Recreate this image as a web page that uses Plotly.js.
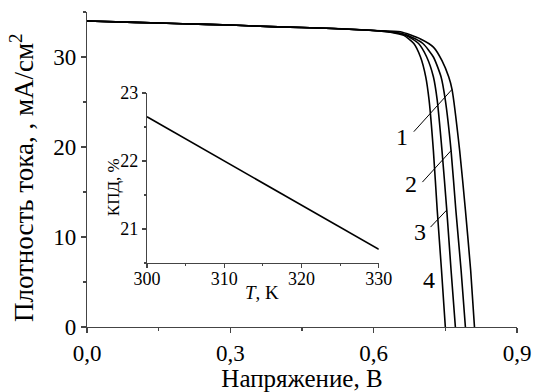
<!DOCTYPE html>
<html>
<head>
<meta charset="utf-8">
<script src="https://cdn.plot.ly/plotly-3.0.1.min.js"></script>
<style>html,body{margin:0;padding:0;background:#fff;}#chart{width:533px;height:392px;}</style>
</head>
<body>
<div id="chart"></div>
<script>
// J–V curves (voltage, V; current density, mA/cm^2)
var V1 = [0, 0.1, 0.2, 0.3, 0.4, 0.5, 0.6, 0.656, 0.698, 0.725, 0.743, 0.757, 0.764, 0.780, 0.792, 0.803, 0.811];
var J1 = [34.0, 33.85, 33.7, 33.55, 33.35, 33.2, 32.95, 32.8, 32.0, 31.1, 29.6, 27.8, 26.4, 19.6, 13.0, 6.3, 0];
var V2 = [0, 0.1, 0.2, 0.3, 0.4, 0.5, 0.6, 0.645, 0.672, 0.703, 0.725, 0.741, 0.750, 0.762, 0.772, 0.783, 0.792];
var J2 = [34.0, 33.85, 33.7, 33.55, 33.35, 33.2, 32.95, 32.75, 32.4, 31.5, 30.0, 27.8, 25.2, 19.6, 13.0, 6.3, 0];
var V3 = [0, 0.1, 0.2, 0.3, 0.4, 0.5, 0.6, 0.64, 0.668, 0.694, 0.711, 0.725, 0.733, 0.743, 0.753, 0.762, 0.771];
var J3 = [34.0, 33.85, 33.7, 33.55, 33.35, 33.2, 32.95, 32.75, 32.4, 31.5, 30.0, 27.8, 25.2, 19.6, 13.0, 6.3, 0];
var V4 = [0, 0.1, 0.2, 0.3, 0.4, 0.5, 0.6, 0.635, 0.663, 0.684, 0.698, 0.709, 0.716, 0.725, 0.733, 0.742, 0.750];
var J4 = [34.0, 33.85, 33.7, 33.55, 33.35, 33.2, 32.95, 32.75, 32.4, 31.5, 30.0, 27.8, 25.2, 19.6, 13.0, 6.3, 0];
// Inset: efficiency vs temperature
var T = [300, 310, 320, 330];
var eff = [22.65, 22.0, 21.35, 20.7];
var curveLabels = ["1", "2", "3", "4"];
var xTickVals = [0, 0.3, 0.6, 0.9];
var xTickText = ["0,0", "0,3", "0,6", "0,9"];

var serif = "'Liberation Serif', 'Times New Roman', serif";
var lineStyle = {color: "#000", width: 1.6, shape: "spline", smoothing: 0.6};
var traces = [
  {x: V1, y: J1, mode: "lines", line: lineStyle, xaxis: "x", yaxis: "y"},
  {x: V2, y: J2, mode: "lines", line: lineStyle, xaxis: "x", yaxis: "y"},
  {x: V3, y: J3, mode: "lines", line: lineStyle, xaxis: "x", yaxis: "y"},
  {x: V4, y: J4, mode: "lines", line: lineStyle, xaxis: "x", yaxis: "y"},
  {x: T, y: eff, mode: "lines", line: {color: "#000", width: 1.6}, xaxis: "x2", yaxis: "y2"}
];

var axisCommon = {
  showgrid: false, zeroline: false, showline: true, linecolor: "#444", linewidth: 1.2,
  ticks: "outside", tickcolor: "#444", tickwidth: 1.2, mirror: false
};

var layout = {
  width: 533, height: 392,
  margin: {l: 87, r: 16, t: 12, b: 65},
  paper_bgcolor: "#fff", plot_bgcolor: "rgba(0,0,0,0)",
  showlegend: false,
  separators: ", ",
  font: {family: serif, color: "#000", size: 22},
  xaxis: Object.assign({}, axisCommon, {
    domain: [0, 1], range: [0, 0.9], tickvals: xTickVals, ticktext: xTickText,
    ticklen: 5, minor: {dtick: 0.15, tick0: 0, ticklen: 3, ticks: "outside", tickcolor: "#444"},
    tickfont: {family: serif, size: 23},
    title: {text: "Напряжение, В", font: {family: serif, size: 25}, standoff: 4}
  }),
  yaxis: Object.assign({}, axisCommon, {
    domain: [0, 1], range: [0, 35], dtick: 10, tick0: 0,
    ticklen: 5, minor: {dtick: 5, tick0: 0, ticklen: 3, ticks: "outside", tickcolor: "#444"},
    tickfont: {family: serif, size: 23}
  }),
  xaxis2: Object.assign({}, axisCommon, {
    domain: [0.1395, 0.6786], range: [300, 330], dtick: 10, tick0: 300, anchor: "y2",
    ticklen: 4, minor: {dtick: 5, tick0: 300, ticklen: 2, ticks: "outside", tickcolor: "#444"},
    tickfont: {family: serif, size: 18}, ticklabelstandoff: -5
  }),
  yaxis2: Object.assign({}, axisCommon, {
    domain: [0.2032, 0.7429], range: [20.5, 23], dtick: 1, tick0: 20, anchor: "x2",
    ticklen: 4, minor: {dtick: 0.5, tick0: 20.5, ticklen: 2, ticks: "outside", tickcolor: "#444"},
    tickfont: {family: serif, size: 18}
  }),
  annotations: [
    {x: 0.659, y: 21.1, text: curveLabels[0], showarrow: false, xref: "x", yref: "y", font: {family: serif, size: 24}},
    {x: 0.678, y: 15.9, text: curveLabels[1], showarrow: false, xref: "x", yref: "y", font: {family: serif, size: 24}},
    {x: 0.696, y: 10.6, text: curveLabels[2], showarrow: false, xref: "x", yref: "y", font: {family: serif, size: 24}},
    {x: 0.716, y: 5.2, text: curveLabels[3], showarrow: false, xref: "x", yref: "y", font: {family: serif, size: 24}},
    {x: -0.151, y: 0.473, xref: "paper", yref: "paper", text: "Плотность тока, , мА/см<sup>2</sup>", textangle: -90,
     showarrow: false, font: {family: serif, size: 27}, xanchor: "center", yanchor: "middle"},
    {x: 0.0605, y: 0.444, xref: "paper", yref: "paper", text: "КПД, %", textangle: -90, showarrow: false,
     font: {family: serif, size: 17}, xanchor: "center", yanchor: "middle"},
    {x: 0.408, y: 0.11, xref: "paper", yref: "paper", text: "<i>T</i>, K", showarrow: false,
     font: {family: serif, size: 19}, xanchor: "center", yanchor: "middle"}
  ],
  shapes: [
    {type: "line", xref: "x", yref: "y", x0: 0.684, y0: 21.7, x1: 0.764, y1: 26.4, line: {color: "#000", width: 1}},
    {type: "line", xref: "x", yref: "y", x0: 0.702, y0: 16.1, x1: 0.762, y1: 19.6, line: {color: "#000", width: 1}},
    {type: "line", xref: "x", yref: "y", x0: 0.719, y0: 11.1, x1: 0.753, y1: 13.0, line: {color: "#000", width: 1}}
  ]
};

Plotly.newPlot("chart", traces, layout, {displayModeBar: false, staticPlot: true});
</script>
</body>
</html>
